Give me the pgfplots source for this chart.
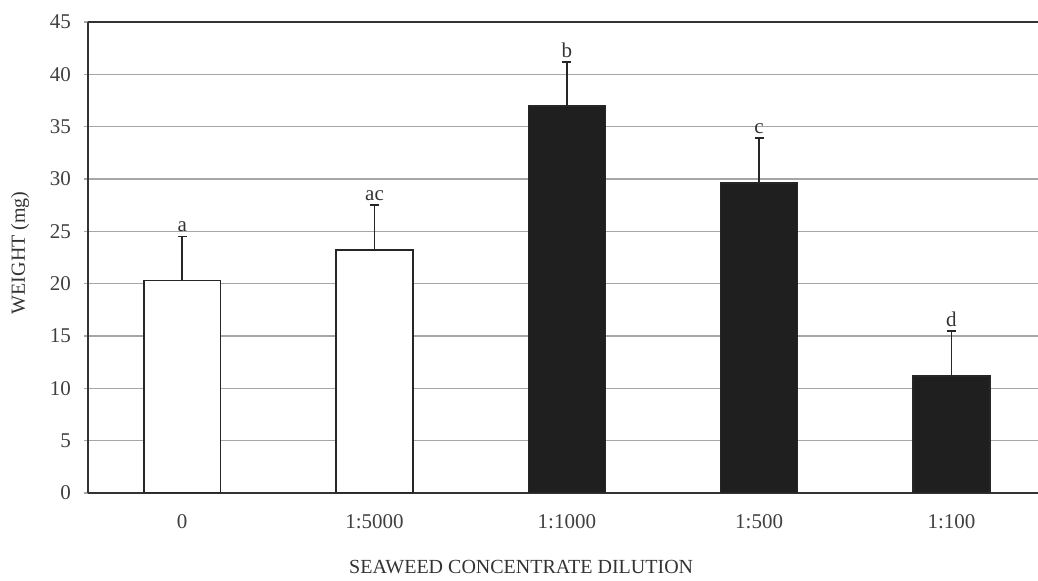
\documentclass[border=0pt]{standalone}
\usepackage{fontspec}
\setmainfont{Liberation Serif}
\usepackage{pgfplots}
\pgfplotsset{compat=1.18}
\usetikzlibrary{calc}
\begin{document}
\begin{tikzpicture}
\begin{axis}[name=ax, scale only axis, width=475pt, height=235.5pt,
  xmin=-0.49, xmax=4.45, ymin=0, ymax=45,
  ytick={0,5,...,45}, xtick={0,1,2,3,4}, xticklabels={0,1:5000,1:1000,1:500,1:100},
  axis x line*=box, axis y line*=left,
  xtick style={draw=none}, ytick style={draw=gray!70, line width=0.6pt},
  tick align=outside, major tick length=2pt,
  ymajorgrids, grid style={gray!70, line width=0.6pt},
  axis line style={line width=0.9pt, black!80},
  /pgf/number format/assume math mode=true,
  ticklabel style={font=\fontsize{10.5}{12}\selectfont, text=black!75},
  yticklabel style={xshift=-3pt},
  xticklabel style={yshift=-5pt},
  xlabel={SEAWEED CONCENTRATE DILUTION}, ylabel={WEIGHT (mg)},
  label style={font=\fontsize{10}{12}\selectfont, text=black!80},
  ylabel style={at={(axis description cs:-0.0716,0.51)}, anchor=center},
  xlabel style={at={(axis description cs:0.456,-0.157)}, anchor=center},
]
\addplot[ybar, bar width=0.4, bar shift=0pt, fill=white, draw=black!85, line width=0.8pt,
  error bars/.cd, y dir=plus, y explicit,
  error bar style={line width=0.8pt, black!85},
  error mark options={rotate=90, mark size=2.2pt, line width=0.8pt, black!85}]
  coordinates {(0,20.3) +- (0,4.2) (1,23.2) +- (0,4.3)};
\addplot[ybar, bar width=0.4, bar shift=0pt, fill=black!88, draw=black!85, line width=0.8pt,
  error bars/.cd, y dir=plus, y explicit,
  error bar style={line width=0.8pt, black!85},
  error mark options={rotate=90, mark size=2.2pt, line width=0.8pt, black!85}]
  coordinates {(2,37.0) +- (0,4.2) (3,29.6) +- (0,4.3) (4,11.2) +- (0,4.3)};
\addplot[draw=none, mark=none, nodes near coords, point meta=explicit symbolic,
  nodes near coords style={anchor=south, inner sep=2pt, font=\fontsize{10.5}{12}\selectfont, text=black!80}]
  table[meta=lab] {
x y lab
0 24.5 a
1 27.5 ac
2 41.2 b
3 33.9 c
4 15.5 d
};
\end{axis}
\pgfresetboundingbox
\path ($(ax.south west)+(-44pt,-44pt)$) rectangle ($(ax.north east)+(0pt,11pt)$);
\end{tikzpicture}
\end{document}
